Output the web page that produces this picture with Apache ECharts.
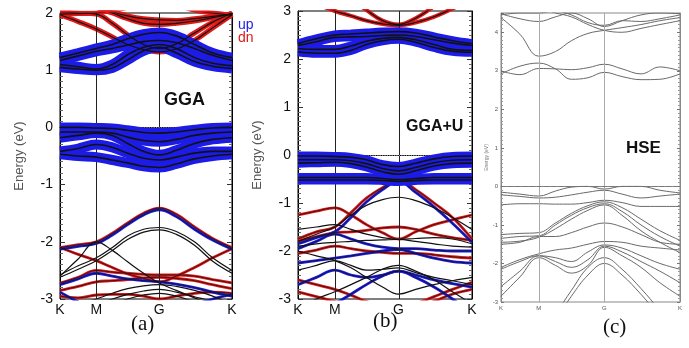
<!DOCTYPE html>
<html><head><meta charset="utf-8">
<script src="https://cdn.jsdelivr.net/npm/echarts@6/dist/echarts.min.js"></script>
<style>html,body{margin:0;padding:0;background:#fff}#c{width:689px;height:348px}</style>
</head><body><div id="c"></div>
<script>
// k-path: K - M - G - K (hexagonal BZ proportions)
const kNames = ['K', 'M', 'G', 'K'];
const kTicks = [0, 0.5, 1.366, 2.366];
const kGrid = [0, 0.25, 0.5, 0.72, 0.93, 1.15, 1.366, 1.6, 1.85, 2.1, 2.366];

// ---------- panel (a) GGA ----------
const aUpFat = [
  [1.22, 1.3, 1.38, 1.45, 1.55, 1.63, 1.66, 1.6, 1.45, 1.3, 1.22],
  [1.17, 1.25, 1.33, 1.38, 1.44, 1.5, 1.52, 1.48, 1.38, 1.26, 1.17],
  [1.1, 1.06, 1.02, 1.1, 1.27, 1.4, 1.45, 1.38, 1.22, 1.12, 1.08],
  [1.05, 1.02, 1.0, 1.04, 1.18, 1.34, 1.4, 1.3, 1.15, 1.07, 1.03],
  [0.0, 0.0, -0.01, -0.02, -0.05, -0.09, -0.1, -0.08, -0.04, -0.01, 0.0],
  [-0.08, -0.08, -0.08, -0.1, -0.17, -0.23, -0.25, -0.21, -0.14, -0.1, -0.08],
  [-0.18, -0.14, -0.1, -0.14, -0.28, -0.42, -0.48, -0.4, -0.28, -0.21, -0.18],
  [-0.42, -0.37, -0.3, -0.35, -0.45, -0.54, -0.57, -0.52, -0.45, -0.42, -0.42],
  [-0.47, -0.5, -0.52, -0.57, -0.62, -0.68, -0.7, -0.64, -0.55, -0.5, -0.47]
];
const aDnFat = [
  [1.97, 1.85, 1.72, 1.58, 1.45, 1.36, 1.32, 1.37, 1.52, 1.74, 1.97],
  [2.02, 2.0, 1.98, 1.82, 1.62, 1.45, 1.38, 1.46, 1.65, 1.84, 2.0],
  [2.4, 2.25, 2.1, 2.0, 1.9, 1.82, 1.8, 1.82, 1.86, 1.92, 1.99],
  [2.3, 2.2, 2.1, 2.02, 1.95, 1.9, 1.88, 1.87, 1.9, 1.94, 1.98],
  [1.98, 1.99, 2.0, 2.05, 2.1, 2.2, 2.25, 2.15, 2.05, 2.0, 1.96]
];
const aRedThin = [
  [-2.1, -2.05, -2.0, -1.85, -1.67, -1.5, -1.41, -1.52, -1.74, -1.94, -2.1],
  [-2.1, -2.22, -2.33, -2.45, -2.56, -2.64, -2.7, -2.6, -2.45, -2.28, -2.12],
  [-2.72, -2.62, -2.5, -2.53, -2.55, -2.57, -2.58, -2.58, -2.6, -2.66, -2.72],
  [-2.85, -2.78, -2.7, -2.68, -2.66, -2.63, -2.62, -2.64, -2.68, -2.75, -2.82],
  [-2.95, -2.98, -2.93, -2.92, -2.92, -2.95, -3.0, -2.95, -2.9, -2.88, -2.9]
];
const aBlueThin = [
  [-2.13, -2.08, -2.03, -1.88, -1.7, -1.53, -1.44, -1.56, -1.78, -1.97, -2.13],
  [-2.75, -2.65, -2.55, -2.6, -2.65, -2.68, -2.7, -2.74, -2.8, -2.88, -2.95],
  [-2.88, -3.05, -3.2, -3.3, -3.35, -3.3, -3.25, -3.2, -3.1, -3.0, -2.92]
];
const aBlackThin = [
  [-2.58, -2.42, -2.28, -2.1, -1.9, -1.78, -1.75, -1.82, -2.0, -2.28, -2.5],
  [-2.62, -2.48, -2.33, -2.15, -1.96, -1.83, -1.79, -1.87, -2.06, -2.34, -2.55],
  [-2.6, -2.3, -2.0, -2.15, -2.35, -2.55, -2.72, -2.85, -2.98, -3.1, -3.2],
  [-3.3, -3.1, -3.0, -2.9, -2.82, -2.77, -2.75, -2.78, -2.85, -2.95, -3.1],
  [-3.4, -3.2, -3.1, -3.0, -2.92, -2.86, -2.83, -2.88, -2.96, -3.05, -3.2],
  [-3.5, -3.3, -3.2, -3.1, -3.0, -2.93, -2.9, -2.95, -3.05, -3.15, -3.3]
];

// ---------- panel (b) GGA+U ----------
const bUpFat = [
  [2.32, 2.42, 2.5, 2.52, 2.54, 2.56, 2.57, 2.54, 2.46, 2.38, 2.32],
  [2.28, 2.36, 2.45, 2.46, 2.47, 2.49, 2.5, 2.47, 2.4, 2.33, 2.28],
  [2.22, 2.2, 2.2, 2.27, 2.37, 2.43, 2.45, 2.4, 2.3, 2.2, 2.18],
  [2.15, 2.12, 2.12, 2.18, 2.3, 2.38, 2.41, 2.35, 2.24, 2.16, 2.14],
  [-0.02, -0.02, -0.03, -0.05, -0.1, -0.2, -0.24, -0.17, -0.08, -0.03, -0.02],
  [-0.1, -0.1, -0.1, -0.12, -0.18, -0.28, -0.33, -0.26, -0.16, -0.11, -0.1],
  [-0.17, -0.16, -0.15, -0.18, -0.25, -0.35, -0.4, -0.33, -0.23, -0.18, -0.17],
  [-0.47, -0.47, -0.47, -0.47, -0.47, -0.49, -0.51, -0.49, -0.47, -0.47, -0.47],
  [-0.52, -0.52, -0.52, -0.52, -0.52, -0.53, -0.55, -0.53, -0.52, -0.52, -0.52]
];
const bDnFat = [
  [3.3, 3.15, 3.0, 2.9, 2.8, 2.73, 2.7, 2.76, 2.88, 3.05, 3.25],
  [4.0, 3.8, 3.55, 3.25, 3.02, 2.8, 2.72, 2.85, 3.1, 3.4, 3.7]
];
const bRedThin = [
  [-1.75, -1.6, -1.5, -1.2, -0.9, -0.68, -0.52, -0.72, -1.0, -1.3, -1.75],
  [-1.25, -1.17, -1.1, -1.25, -1.45, -1.62, -1.75, -1.6, -1.45, -1.35, -1.25],
  [-1.8, -1.7, -1.62, -1.6, -1.57, -1.52, -1.5, -1.55, -1.65, -1.72, -1.78],
  [-2.05, -1.98, -1.9, -1.95, -2.0, -2.03, -2.05, -2.05, -2.08, -2.12, -2.15],
  [-2.6, -2.7, -2.8, -2.92, -3.05, -3.15, -3.2, -3.1, -2.95, -2.8, -2.65],
  [-2.85, -2.95, -3.05, -3.15, -3.25, -3.3, -3.3, -3.2, -3.05, -2.9, -2.8]
];
const bBlueThin = [
  [-1.85, -1.72, -1.6, -1.3, -0.98, -0.72, -0.55, -0.78, -1.08, -1.42, -1.82],
  [-1.95, -1.8, -1.65, -1.75, -1.85, -1.92, -1.95, -1.95, -1.98, -2.0, -2.0],
  [-2.25, -2.2, -2.15, -2.1, -2.05, -2.0, -1.97, -2.05, -2.15, -2.22, -2.25],
  [-2.7, -2.55, -2.4, -2.5, -2.55, -2.5, -2.42, -2.5, -2.6, -2.68, -2.75],
  [-3.5, -3.3, -3.1, -2.9, -2.7, -2.52, -2.42, -2.55, -2.75, -3.0, -3.3]
];
const bBlackThin = [
  [-1.8, -1.65, -1.5, -1.25, -1.05, -0.93, -0.88, -0.95, -1.1, -1.3, -1.55],
  [-1.55, -1.5, -1.45, -1.55, -1.65, -1.72, -1.76, -1.74, -1.72, -1.75, -1.85],
  [-1.9, -1.85, -1.82, -1.8, -1.78, -1.77, -1.76, -1.8, -1.85, -1.9, -1.92],
  [-3.2, -3.0, -2.85, -2.7, -2.55, -2.38, -2.3, -2.42, -2.6, -2.85, -3.1],
  [-2.4, -2.3, -2.2, -2.3, -2.4, -2.38, -2.35, -2.45, -2.55, -2.62, -2.7],
  [-2.0, -2.1, -2.2, -2.35, -2.55, -2.75, -2.9, -2.8, -2.7, -2.62, -2.55]
];

// ---------- panel (c) HSE ----------
const cBands = [
  [4.48, 4.35, 4.28, 4.4, 4.5, 4.35, 4.15, 4.3, 4.45, 4.5, 4.48],
  [4.45, 4.5, 4.5, 4.55, 4.45, 4.25, 4.18, 4.3, 4.28, 4.35, 4.45],
  [4.6, 4.55, 4.6, 4.5, 4.4, 4.2, 4.05, 4.0, 4.1, 4.2, 4.3],
  [4.38, 3.95, 3.38, 3.5, 3.78, 3.97, 4.05, 4.12, 4.2, 4.3, 4.38],
  [3.0, 2.9, 3.06, 3.05, 3.03, 3.08, 3.17, 3.05, 2.92, 3.1, 3.0],
  [2.92, 3.12, 3.2, 3.05, 2.78, 2.82, 2.96, 2.85, 2.77, 2.78, 2.92],
  [-0.15, -0.2, -0.25, -0.12, -0.02, 0.0, -0.07, 0.0, 0.0, -0.1, -0.17],
  [-0.22, -0.26, -0.3, -0.28, -0.22, -0.15, -0.1, -0.2, -0.3, -0.25, -0.2],
  [-0.48, -0.45, -0.45, -0.46, -0.46, -0.42, -0.36, -0.42, -0.52, -0.52, -0.52],
  [-1.25, -1.22, -1.2, -0.95, -0.7, -0.5, -0.4, -0.55, -0.85, -1.15, -1.4],
  [-1.35, -1.3, -1.28, -1.0, -0.75, -0.55, -0.45, -0.65, -1.0, -1.3, -1.55],
  [-1.45, -1.42, -1.32, -1.1, -0.85, -0.62, -0.48, -0.75, -1.15, -1.45, -1.72],
  [-1.5, -1.45, -1.3, -1.3, -1.2, -1.05, -0.95, -1.05, -1.25, -1.45, -1.5],
  [-2.1, -1.9, -1.75, -1.65, -1.6, -1.5, -1.43, -1.45, -1.55, -1.6, -1.65],
  [-2.15, -1.95, -1.8, -1.85, -1.95, -1.7, -1.52, -1.6, -1.8, -2.0, -2.15],
  [-2.6, -2.2, -1.8, -1.95, -2.1, -1.9, -1.55, -1.7, -1.95, -2.2, -2.5],
  [-2.85, -2.35, -1.85, -2.05, -2.25, -2.05, -1.58, -1.8, -2.1, -2.5, -2.85],
  [-4.0, -4.0, -3.8, -3.3, -2.7, -2.1, -1.85, -2.15, -2.65, -3.2, -3.7],
  [-4.0, -4.0, -3.9, -3.45, -2.85, -2.3, -2.0, -2.3, -2.8, -3.35, -3.8]
];

// ---------- build ----------
const RED = '#e01818', BLUE = '#1c1ce6', BLK = '#111';
const series = [];
function mk(yi, vals, color, width, z) {
  return {
    type: 'line', xAxisIndex: yi / 2, yAxisIndex: yi, smooth: 0.4, showSymbol: false,
    symbol: 'none', silent: true, z: z, clip: true,
    lineStyle: { color: color, width: width },
    data: kGrid.map((k, i) => [k, vals[i]])
  };
}
function add(list, yi, color, width, z) { list.forEach(v => series.push(mk(yi, v, color, width, z))); }
function helper(yi, vColor, fColor, fType) {
  series.push({
    type: 'line', xAxisIndex: yi / 2, yAxisIndex: yi, data: [], z: 1, silent: true,
    markLine: {
      silent: true, symbol: ['none', 'none'], label: { show: false }, animation: false,
      data: [
        { xAxis: kTicks[1], lineStyle: { color: vColor, width: 1, type: 'solid' } },
        { xAxis: kTicks[2], lineStyle: { color: vColor, width: 1, type: 'solid' } },
        { yAxis: 0, lineStyle: { color: fColor, width: 1.2, type: fType } }
      ]
    }
  });
}
// panel a
helper(0, '#222', '#888', 'dotted');
add(aRedThin, 0, RED, 2.8, 2);
add(aBlueThin, 0, BLUE, 2.8, 2);
add(aRedThin, 0, BLK, 0.8, 3);
add(aBlueThin, 0, BLK, 0.8, 3);
add(aBlackThin, 0, BLK, 1.2, 3);
add(aDnFat, 0, RED, 5, 4);
add(aUpFat, 0, BLUE, 10, 5);
add(aDnFat, 0, BLK, 1.2, 6);
add(aUpFat, 0, BLK, 1.6, 6);
// panel b
helper(2, '#222', '#888', 'dotted');
add(bRedThin, 2, RED, 2.8, 2);
add(bBlueThin, 2, BLUE, 2.8, 2);
add(bRedThin, 2, BLK, 0.8, 3);
add(bBlueThin, 2, BLK, 0.8, 3);
add(bBlackThin, 2, BLK, 1.2, 3);
add(bDnFat, 2, RED, 4, 4);
add(bUpFat, 2, BLUE, 9, 5);
add(bDnFat, 2, BLK, 1.2, 6);
add(bUpFat, 2, BLK, 1.6, 6);
// panel c
helper(4, '#aaa', '#777', 'dashed');
add(cBands, 4, '#6a6a6a', 1, 3);

const grids = [
  { left: 60, top: 13, width: 172, height: 286 },
  { left: 298, top: 11, width: 174, height: 288 },
  { left: 501, top: 13, width: 179, height: 289 }
];
const border = ['#000', '#000', '#888'];
function xAx(i, fs, col) {
  return {
    type: 'value', gridIndex: i, min: 0, max: kTicks[3],
    axisLine: { show: true, lineStyle: { color: border[i], width: 1 } },
    axisTick: { show: false },
    splitLine: { show: false },
    axisLabel: {
      customValues: kTicks, showMinLabel: true, showMaxLabel: true,
      fontSize: fs, color: col, margin: i === 2 ? 3 : 4, fontFamily: 'Liberation Sans',
      formatter: v => { const j = kTicks.findIndex(t => Math.abs(t - v) < 1e-6); return j >= 0 ? kNames[j] : ''; }
    }
  };
}
function yAx(i, min, max, right, fs, col, gap) {
  const small = i === 2;
  return {
    type: 'value', gridIndex: i, min: min, max: max, interval: 1, position: right ? 'right' : 'left',
    axisLine: { show: true, lineStyle: { color: border[i], width: 1 } },
    axisTick: { show: true, inside: true, length: small ? 3 : 5, lineStyle: { color: small ? '#777' : '#333' } },
    minorTick: { show: true, splitNumber: 10, length: small ? 2 : 3, lineStyle: { color: small ? '#999' : '#666' } },
    splitLine: { show: false },
    axisLabel: {
      show: !right, fontSize: fs, color: col, margin: small ? 3 : 7, fontFamily: 'Liberation Sans',
      formatter: v => (Math.abs(v - Math.round(v)) < 1e-6 ? String(Math.round(v)) : '')
    },
    name: right ? '' : 'Energy (eV)', nameLocation: 'middle', nameGap: gap,
    nameTextStyle: { fontSize: small ? 5 : 13, color: small ? '#777' : '#555', fontFamily: 'Liberation Sans' }
  };
}
const option = {
  animation: false,
  backgroundColor: '#fff',
  grid: grids.map((g, i) => Object.assign({ show: true, borderColor: border[i], borderWidth: 1, backgroundColor: 'transparent' }, g)),
  xAxis: [xAx(0, 14, '#111'), xAx(1, 14, '#111'), xAx(2, 6, '#555')],
  yAxis: [
    yAx(0, -3, 2, false, 14, '#111', 34), yAx(0, -3, 2, true, 14, '#111', 0),
    yAx(1, -3, 3, false, 14, '#111', 34), yAx(1, -3, 3, true, 14, '#111', 0),
    yAx(2, -3, 4.5, false, 6, '#555', 12), yAx(2, -3, 4.5, true, 6, '#555', 0)
  ],
  title: [
    { text: 'GGA', left: 164, top: 91, textStyle: { fontSize: 18, fontWeight: 'bold', color: '#111', fontFamily: 'Liberation Sans' }, padding: 0 },
    { text: 'GGA+U', left: 406, top: 119, textStyle: { fontSize: 16, fontWeight: 'bold', color: '#111', fontFamily: 'Liberation Sans' }, padding: 0 },
    { text: 'HSE', left: 626, top: 140, textStyle: { fontSize: 17, fontWeight: 'bold', color: '#111', fontFamily: 'Liberation Sans' }, padding: 0 },
    { text: 'up', left: 238, top: 18, textStyle: { fontSize: 14, fontWeight: 'normal', color: '#1c1ce6', fontFamily: 'Liberation Sans' }, padding: 0 },
    { text: 'dn', left: 238, top: 31, textStyle: { fontSize: 14, fontWeight: 'normal', color: '#e01818', fontFamily: 'Liberation Sans' }, padding: 0 },
    { text: '(a)', left: 131, top: 314, textStyle: { fontSize: 21, fontWeight: 'normal', color: '#111', fontFamily: 'Liberation Serif' }, padding: 0 },
    { text: '(b)', left: 373, top: 311, textStyle: { fontSize: 21, fontWeight: 'normal', color: '#111', fontFamily: 'Liberation Serif' }, padding: 0 },
    { text: '(c)', left: 603, top: 317, textStyle: { fontSize: 21, fontWeight: 'normal', color: '#111', fontFamily: 'Liberation Serif' }, padding: 0 }
  ],
  series: series
};
const chart = echarts.init(document.getElementById('c'), null, { renderer: 'canvas' });
chart.setOption(option);
</script>
</body></html>
